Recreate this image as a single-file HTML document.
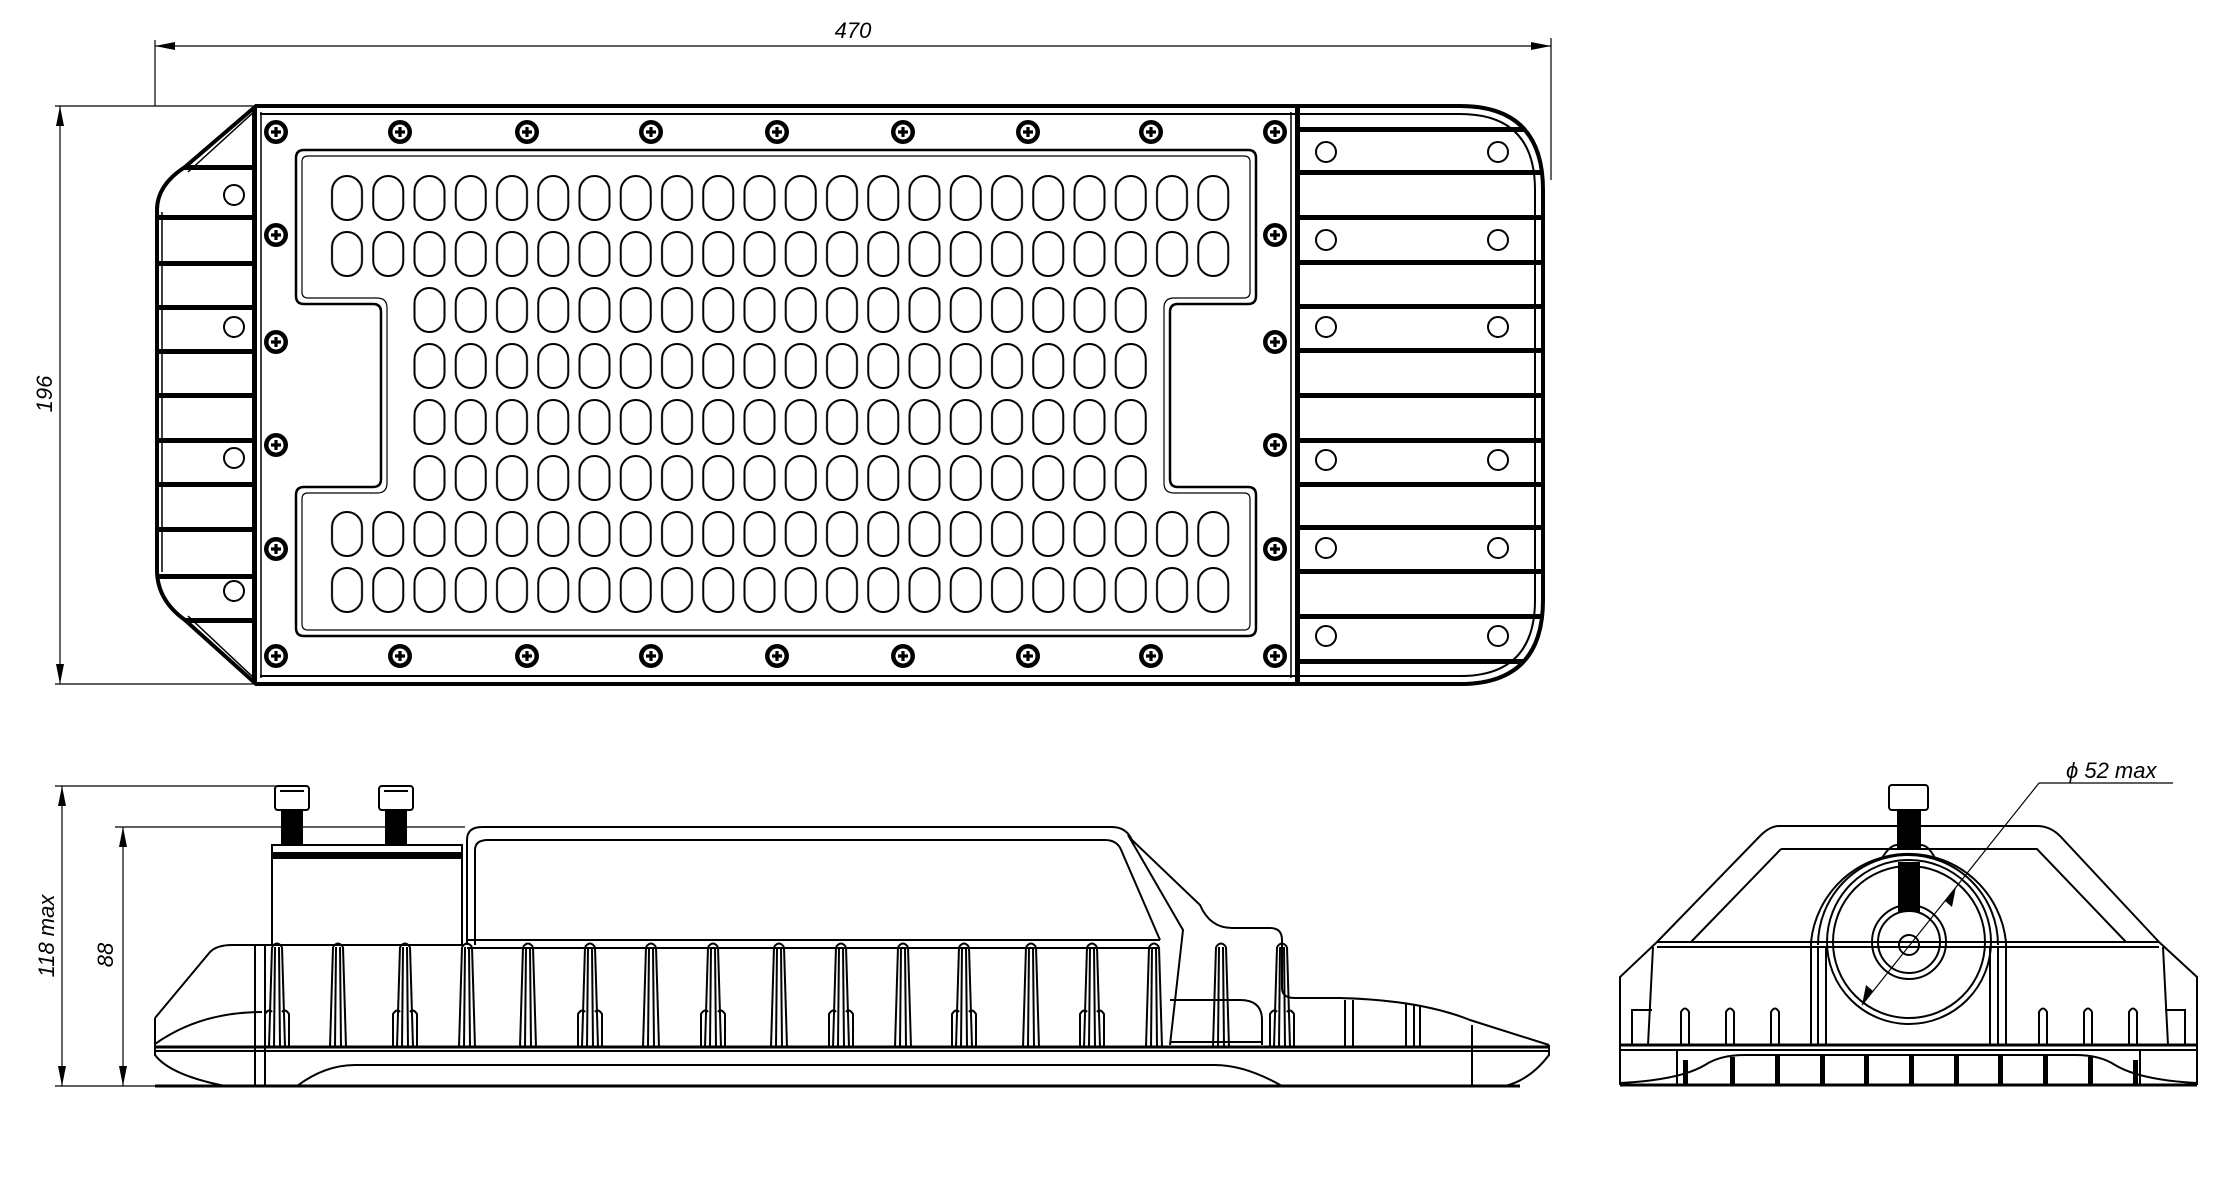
<!DOCTYPE html>
<html><head><meta charset="utf-8"><style>
html,body{margin:0;padding:0;background:#fff;}
svg{display:block}
text{font-family:"Liberation Sans",sans-serif;font-style:italic;fill:#000}
</style></head><body>
<svg width="2234" height="1183" viewBox="0 0 2234 1183" xmlns="http://www.w3.org/2000/svg">
<defs>
<pattern id="led" patternUnits="userSpaceOnUse" x="326.4" y="170" width="41.25" height="56">
<rect x="5.6" y="6" width="30" height="44" rx="15" ry="15" fill="#fff" stroke="#000" stroke-width="2"/>
</pattern>
<g id="scr"><circle r="12" fill="#000"/><circle r="7.5" fill="#fff"/><path d="M-5,-1.6H5V1.6H-5Z M-1.6,-5H1.6V5H-1.6Z" fill="#000"/></g>
<clipPath id="body"><path d="M256,106 L1460,106 Q1543,106 1543,190 L1543,600 Q1543,684 1460,684 L256,684 L185,620 Q157,600 157,570 L157,210 Q157,185 185,167 Z"/></clipPath>
<g id="fin"><path d="M-5,947 L-8,1047 M5,947 L8,1047 M-5,947 Q0,940 5,947 M-2,947 L-3,1047 M2,947 L3,1047" fill="none" stroke="#000" stroke-width="2"/></g>
<g id="fin2"><path d="M-5,947 L-8,1047 M5,947 L8,1047 M-5,947 Q0,940 5,947 M-2,947 L-3,1047 M2,947 L3,1047 M-8,1047 L-12,1047 L-12,1014 Q-8,1008 -5,1012 M8,1047 L12,1047 L12,1014 Q8,1008 5,1012" fill="none" stroke="#000" stroke-width="2"/></g>
</defs>

<g stroke="#000" stroke-width="1.2" fill="none">
<line x1="155" y1="40" x2="155" y2="106"/>
<line x1="1551" y1="38" x2="1551" y2="180"/>
<line x1="155" y1="46" x2="1551" y2="46"/>
<line x1="55" y1="106" x2="256" y2="106"/>
<line x1="55" y1="684" x2="256" y2="684"/>
<line x1="60" y1="106" x2="60" y2="684"/>
</g>
<path d="M155,46 L175,42 L175,50Z M1551,46 L1531,42 L1531,50Z M60,106 L56,126 L64,126Z M60,684 L56,664 L64,664Z" fill="#000"/>
<text x="853" y="38" font-size="22" text-anchor="middle">470</text>
<text transform="translate(52,394) rotate(-90)" font-size="22" text-anchor="middle">196</text>

<g clip-path="url(#body)" fill="#000">
<rect x="157" y="165" width="96" height="5"/><rect x="157" y="215" width="96" height="5"/>
<rect x="157" y="261" width="96" height="5"/><rect x="157" y="305" width="96" height="5"/>
<rect x="157" y="349" width="96" height="5"/><rect x="157" y="393" width="96" height="5"/>
<rect x="157" y="438" width="96" height="5"/><rect x="157" y="482" width="96" height="5"/>
<rect x="157" y="527" width="96" height="5"/><rect x="157" y="574" width="96" height="5"/>
<rect x="157" y="618" width="96" height="5"/>
<rect x="1300" y="127" width="250" height="5"/><rect x="1300" y="170" width="250" height="5"/>
<rect x="1300" y="215" width="250" height="5"/><rect x="1300" y="260" width="250" height="5"/>
<rect x="1300" y="304" width="250" height="5"/><rect x="1300" y="348" width="250" height="5"/>
<rect x="1300" y="393" width="250" height="5"/><rect x="1300" y="438" width="250" height="5"/>
<rect x="1300" y="482" width="250" height="5"/><rect x="1300" y="525" width="250" height="5"/>
<rect x="1300" y="569" width="250" height="5"/><rect x="1300" y="614" width="250" height="5"/>
<rect x="1300" y="659" width="250" height="5"/>
</g>
<path d="M256,106 L1460,106 Q1543,106 1543,190 L1543,600 Q1543,684 1460,684 L256,684 L185,620 Q157,600 157,570 L157,210 Q157,185 185,167 Z" fill="none" stroke="#000" stroke-width="4"/>
<path d="M1460,114 Q1535,114 1535,190 L1535,600 Q1535,676 1460,676" fill="none" stroke="#000" stroke-width="2"/>
<line x1="260" y1="114" x2="1460" y2="114" stroke="#000" stroke-width="2"/>
<line x1="260" y1="676" x2="1460" y2="676" stroke="#000" stroke-width="2"/>
<line x1="162" y1="212" x2="162" y2="572" stroke="#000" stroke-width="1.5"/>
<path d="M256,110 L188,172 M256,680 L188,616" stroke="#000" stroke-width="1.5"/>
<rect x="252" y="108" width="5" height="574" fill="#000"/>
<line x1="261" y1="112" x2="261" y2="678" stroke="#000" stroke-width="1.5"/>
<rect x="1295" y="108" width="5" height="574" fill="#000"/>
<line x1="1291" y1="112" x2="1291" y2="678" stroke="#000" stroke-width="1.5"/>
<g fill="#fff" stroke="#000" stroke-width="2">
<circle cx="234" cy="195" r="10"/><circle cx="234" cy="327" r="10"/><circle cx="234" cy="458" r="10"/><circle cx="234" cy="591" r="10"/>
<circle cx="1326" cy="152" r="10"/><circle cx="1498" cy="152" r="10"/>
<circle cx="1326" cy="240" r="10"/><circle cx="1498" cy="240" r="10"/>
<circle cx="1326" cy="327" r="10"/><circle cx="1498" cy="327" r="10"/>
<circle cx="1326" cy="460" r="10"/><circle cx="1498" cy="460" r="10"/>
<circle cx="1326" cy="548" r="10"/><circle cx="1498" cy="548" r="10"/>
<circle cx="1326" cy="636" r="10"/><circle cx="1498" cy="636" r="10"/>
</g>
<path d="M304,150 L1248,150 Q1256,150 1256,158 L1256,296 Q1256,304 1248,304 L1178,304 Q1170,304 1170,312 L1170,479 Q1170,487 1178,487 L1248,487 Q1256,487 1256,495 L1256,628 Q1256,636 1248,636 L304,636 Q296,636 296,628 L296,495 Q296,487 304,487 L373,487 Q381,487 381,479 L381,312 Q381,304 373,304 L304,304 Q296,304 296,296 L296,158 Q296,150 304,150 Z" fill="none" stroke="#000" stroke-width="2.5"/>
<path d="M308,156 L1244,156 Q1250,156 1250,162 L1250,292 Q1250,298 1244,298 L1174,298 Q1164,298 1164,308 L1164,483 Q1164,493 1174,493 L1244,493 Q1250,493 1250,499 L1250,624 Q1250,630 1244,630 L308,630 Q302,630 302,624 L302,499 Q302,493 308,493 L377,493 Q387,493 387,483 L387,308 Q387,298 377,298 L308,298 Q302,298 302,292 L302,162 Q302,156 308,156 Z" fill="none" stroke="#000" stroke-width="1.2"/>
<rect x="326.4" y="170" width="907.5" height="112" fill="url(#led)"/>
<rect x="326.4" y="506" width="907.5" height="112" fill="url(#led)"/>
<rect x="408.9" y="282" width="742.5" height="224" fill="url(#led)"/>
<g>
<use href="#scr" x="276" y="132"/><use href="#scr" x="400" y="132"/><use href="#scr" x="527" y="132"/><use href="#scr" x="651" y="132"/><use href="#scr" x="777" y="132"/><use href="#scr" x="903" y="132"/><use href="#scr" x="1028" y="132"/><use href="#scr" x="1151" y="132"/><use href="#scr" x="1275" y="132"/>
<use href="#scr" x="276" y="656"/><use href="#scr" x="400" y="656"/><use href="#scr" x="527" y="656"/><use href="#scr" x="651" y="656"/><use href="#scr" x="777" y="656"/><use href="#scr" x="903" y="656"/><use href="#scr" x="1028" y="656"/><use href="#scr" x="1151" y="656"/><use href="#scr" x="1275" y="656"/>
<use href="#scr" x="276" y="235"/><use href="#scr" x="276" y="342"/><use href="#scr" x="276" y="445"/><use href="#scr" x="276" y="549"/>
<use href="#scr" x="1275" y="235"/><use href="#scr" x="1275" y="342"/><use href="#scr" x="1275" y="445"/><use href="#scr" x="1275" y="549"/>
</g>

<g stroke="#000" stroke-width="1.2" fill="none">
<line x1="55" y1="786" x2="280" y2="786"/>
<line x1="115" y1="827" x2="465" y2="827"/>
<line x1="55" y1="1086" x2="160" y2="1086"/>
<line x1="62" y1="786" x2="62" y2="1086"/>
<line x1="123" y1="827" x2="123" y2="1086"/>
</g>
<path d="M62,786 L58,806 L66,806Z M62,1086 L58,1066 L66,1066Z M123,827 L119,847 L127,847Z M123,1086 L119,1066 L127,1066Z" fill="#000"/>
<text transform="translate(54,936) rotate(-90)" font-size="22" text-anchor="middle">118 max</text>
<text transform="translate(113,955) rotate(-90)" font-size="22" text-anchor="middle">88</text>

<g stroke="#000" fill="none" stroke-width="2">
<rect x="275" y="786" width="34" height="24" rx="3"/>
<rect x="379" y="786" width="34" height="24" rx="3"/>
<path d="M280,791 H304 M384,791 H408"/>
<rect x="282" y="810" width="20" height="35" fill="#000"/>
<rect x="386" y="810" width="20" height="35" fill="#000"/>
<rect x="272" y="845" width="190" height="100"/>
<rect x="272" y="853" width="190" height="5" fill="#000"/>
<path d="M467,945 L467,840 Q467,827 482,827 L1112,827 Q1126,827 1132,840 L1200,905 Q1210,928 1232,928 L1270,928 Q1282,928 1282,940 L1282,988 Q1282,998 1295,998 L1340,998 Q1420,1000 1470,1020 L1549,1045"/>
<path d="M475,945 L475,850 Q475,840 488,840 L1105,840 Q1118,840 1122,852 L1160,940"/>
<path d="M1128,835 L1183,930 L1170,1045"/>
<line x1="467" y1="940" x2="1160" y2="940"/>
<line x1="467" y1="948" x2="1160" y2="948"/>
<path d="M1170,1000 L1240,1000 Q1262,1000 1262,1020 L1262,1045"/>
<line x1="1170" y1="1042" x2="1262" y2="1042"/>
<path d="M155,1018 L210,952 Q217,945 232,945 L272,945"/>
<path d="M155,1044 Q200,1012 262,1012"/>
<path d="M155,1018 L155,1055 Q170,1075 225,1086"/>
<line x1="255" y1="945" x2="255" y2="1085"/>
<line x1="265" y1="945" x2="265" y2="1085"/>
<line x1="155" y1="1047" x2="1549" y2="1047" stroke-width="3"/>
<line x1="155" y1="1051" x2="1549" y2="1051"/>
<line x1="155" y1="1086" x2="1520" y2="1086" stroke-width="3"/>
<path d="M1549,1045 L1549,1055 Q1530,1080 1505,1086"/>
<path d="M297,1086 Q325,1065 355,1065 L1215,1065 Q1245,1065 1282,1086"/>
<line x1="1472" y1="1025" x2="1472" y2="1086"/>
<line x1="1420" y1="1005" x2="1420" y2="1047"/>
</g>
<g>
<use href="#fin2" x="277"/><use href="#fin" x="338"/><use href="#fin2" x="405"/><use href="#fin" x="467"/>
<use href="#fin" x="528"/><use href="#fin2" x="590"/><use href="#fin" x="651"/><use href="#fin2" x="713"/>
<use href="#fin" x="779"/><use href="#fin2" x="841"/><use href="#fin" x="903"/><use href="#fin2" x="964"/>
<use href="#fin" x="1031"/><use href="#fin2" x="1092"/><use href="#fin" x="1154"/><use href="#fin" x="1221"/>
<use href="#fin2" x="1282"/>
</g>
<g stroke="#000" stroke-width="2" fill="none">
<path d="M1345,1000 V1047 M1353,1000 V1047 M1406,1004 V1047 M1414,1004 V1047"/>
</g>

<g stroke="#000" fill="none" stroke-width="2">
<rect x="1889" y="785" width="39" height="25" rx="3"/>
<path d="M1779,826 L2037,826 Q2050,826 2060,836 L2159,942 M1779,826 Q1770,826 1760,836 L1657,942"/>
<path d="M1781,849 L2037,849 L2126,942 M1781,849 L1691,942"/>
<line x1="1657" y1="942" x2="2159" y2="942"/>
<line x1="1657" y1="947" x2="2159" y2="947"/>
<path d="M1657,942 L1620,977 L1620,1085 M2159,942 L2197,977 L2197,1085"/>
<line x1="1620" y1="1045" x2="2197" y2="1045" stroke-width="3"/>
<line x1="1620" y1="1050" x2="2197" y2="1050"/>
<line x1="1620" y1="1085" x2="2197" y2="1085" stroke-width="3"/>
<path d="M1620,1083 Q1680,1080 1705,1065 Q1720,1055 1745,1055 L2075,1055 Q2100,1055 2115,1065 Q2140,1080 2197,1083"/>
<line x1="1677" y1="1050" x2="1677" y2="1085"/>
<line x1="2140" y1="1050" x2="2140" y2="1085"/>
<path d="M1632,1045 L1632,1010 L1652,1010 M2185,1045 L2185,1010 L2165,1010"/>
<path d="M1653,947 L1648,1045 M2163,947 L2168,1045"/>
<path d="M1811,942 L1811,1045 M1818,947 L1818,1045 M1826,947 L1826,1045 M2006,942 L2006,1045 M1998,947 L1998,1045 M1990,947 L1990,1045"/>
<path d="M1811,942 A98,98 0 0 1 2006,942" stroke-width="2"/>
<path d="M1818,945 A90,90 0 0 1 1998,945"/>
<circle cx="1909" cy="942" r="82"/>
<circle cx="1909" cy="942" r="76"/>
<circle cx="1909" cy="942" r="37"/>
<circle cx="1909" cy="942" r="31"/>
<circle cx="1909" cy="945" r="10"/>
<path d="M1882,858 Q1890,845 1897,845 L1921,845 Q1928,845 1935,858"/>
</g>
<rect x="1897" y="810" width="24" height="40" fill="#000"/>
<rect x="1898" y="862" width="22" height="50" fill="#000"/>
<g stroke="#000" stroke-width="2" fill="none">
<path d="M1681,1045 L1681,1012 Q1685,1005 1689,1012 L1689,1045 M1726,1045 L1726,1012 Q1730,1005 1734,1012 L1734,1045 M1771,1045 L1771,1012 Q1775,1005 1779,1012 L1779,1045"/>
<path d="M2039,1045 L2039,1012 Q2043,1005 2047,1012 L2047,1045 M2084,1045 L2084,1012 Q2088,1005 2092,1012 L2092,1045 M2129,1045 L2129,1012 Q2133,1005 2137,1012 L2137,1045"/>
</g>
<g fill="#000">
<rect x="1683" y="1060" width="5" height="25"/><rect x="1730" y="1057" width="5" height="28"/><rect x="1775" y="1055" width="5" height="30"/>
<rect x="1820" y="1055" width="5" height="30"/><rect x="1864" y="1055" width="5" height="30"/><rect x="1909" y="1055" width="5" height="30"/>
<rect x="1954" y="1055" width="5" height="30"/><rect x="1998" y="1055" width="5" height="30"/><rect x="2043" y="1055" width="5" height="30"/>
<rect x="2088" y="1057" width="5" height="28"/><rect x="2133" y="1060" width="5" height="25"/>
</g>
<g stroke="#000" stroke-width="1.2" fill="none">
<line x1="1862" y1="1005" x2="2039" y2="783"/>
<line x1="2039" y1="783" x2="2173" y2="783"/>
</g>
<path d="M1862,1005 L1866,985 L1873,991Z M1956,887 L1952,907 L1945,901Z" fill="#000"/>
<text x="2066" y="778" font-size="22">ϕ 52 max</text>
</svg>
</body></html>
